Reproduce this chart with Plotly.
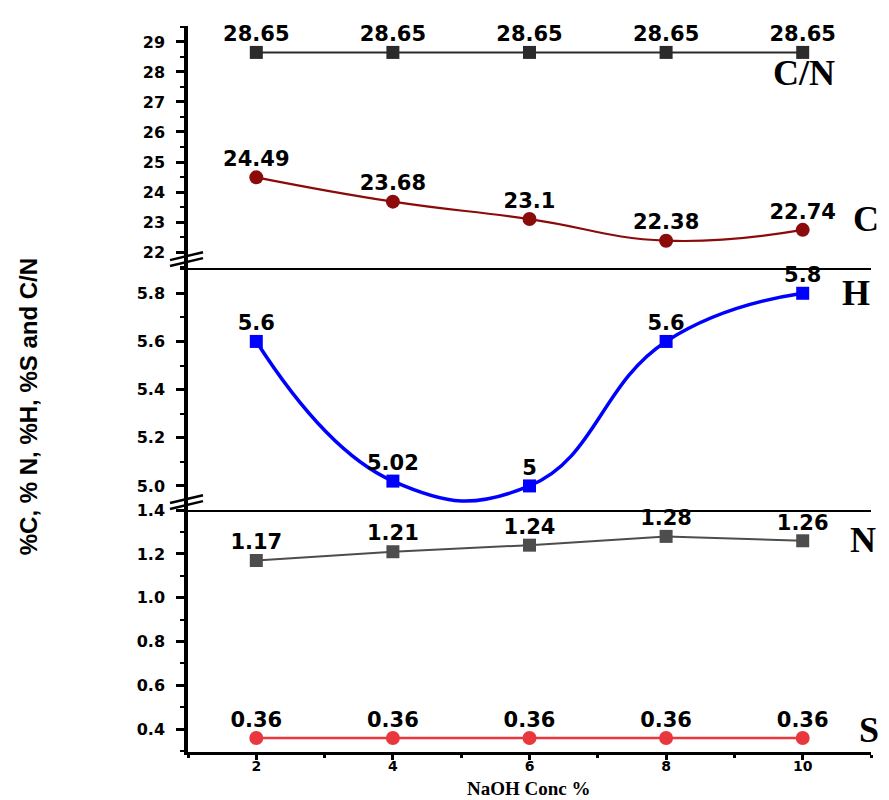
import plotly.graph_objects as go

naoh = [2, 4, 6, 8, 10]
cn_vals = [28.65, 28.65, 28.65, 28.65, 28.65]
c_vals = [24.49, 23.68, 23.1, 22.38, 22.74]
h_vals = [5.6, 5.02, 5.0, 5.6, 5.8]
n_vals = [1.17, 1.21, 1.24, 1.28, 1.26]
s_vals = [0.36, 0.36, 0.36, 0.36, 0.36]
x_ticks = [2, 4, 6, 8, 10]
series_names = ["C/N", "C", "H", "N", "S"]

LABEL_FONT = dict(family="DejaVu Sans", size=21, color="black", weight="bold")
TICK_FONT = dict(family="DejaVu Sans", size=16, color="black", weight="bold")
SERIF = dict(family="Liberation Serif, Times New Roman, serif", size=36, color="black", weight="bold")

# page body has an 8px margin: plot area sits at screen x 188..871, y 17..752
OFF = 8
PL, PR, PT, PB = 188, 871, 17, 752

fig = go.Figure()


def add_series(x, y, xa, ya, color, symbol, msize, lw, shape):
    fig.add_trace(go.Scatter(
        x=x, y=y, xaxis=xa, yaxis=ya, mode="lines+markers",
        line=dict(color=color, width=lw, shape=shape, smoothing=1.3),
        marker=dict(color=color, symbol=symbol, size=msize),
        cliponaxis=True, showlegend=False, hoverinfo="x+y"))
    fig.add_trace(go.Scatter(
        x=x, y=y, xaxis=xa, yaxis=ya, mode="markers+text",
        text=[f"{v:g}" for v in y], textposition="top center",
        textfont=LABEL_FONT,
        marker=dict(color="rgba(0,0,0,0)", size=8),
        cliponaxis=False, showlegend=False, hoverinfo="skip"))


# top panel: C/N and C
add_series(naoh, cn_vals, "x3", "y3", "#2b2b2b", "square", 13, 2, "linear")
add_series(naoh, c_vals, "x3", "y3", "#8b0a0a", "circle", 14, 2.2, "spline")
# middle panel: H
add_series(naoh, h_vals, "x2", "y2", "#0000ff", "square", 13, 3.5, "spline")
# bottom panel: N and S
add_series(naoh, n_vals, "x", "y", "#4d4d4d", "square", 13, 2, "linear")
add_series(naoh, s_vals, "x", "y", "#e8383d", "circle", 14, 2.5, "linear")

xcommon = dict(range=[1, 11], showgrid=False, zeroline=False)
ycommon = dict(showgrid=False, zeroline=False, showline=True, linecolor="black",
               linewidth=3.5, ticks="outside", ticklen=8, tickwidth=2.5,
               tickcolor="black", tickfont=TICK_FONT, ticklabelstandoff=8)

W, H = 889 - OFF, 800 - OFF
fig.update_layout(
    width=W, height=H,
    margin=dict(l=PL - OFF, r=W - (PR - OFF), t=PT - OFF, b=H - (PB - OFF)),
    plot_bgcolor="white", paper_bgcolor="white",
    xaxis=dict(**xcommon, anchor="y", showline=True, linecolor="black", linewidth=3,
               ticks="outside", ticklen=5, tickwidth=3, tickcolor="black",
               tickvals=x_ticks, tickfont=dict(TICK_FONT, size=14), ticklabelstandoff=-6,
               minor=dict(dtick=1, tick0=1, ticks="outside", ticklen=3, tickwidth=2.5, tickcolor="black")),
    xaxis2=dict(**xcommon, anchor="y2", matches="x", showline=True, linecolor="black",
                linewidth=2, showticklabels=False, ticks=""),
    xaxis3=dict(**xcommon, anchor="y3", matches="x", showline=True, linecolor="black",
                linewidth=2, showticklabels=False, ticks=""),
    yaxis=dict(**ycommon, domain=[0, 1/3], range=[0.296, 1.4005], tick0=0, dtick=0.2,
               tickformat=".1f",
               minor=dict(dtick=0.1, ticks="outside", ticklen=4, tickwidth=2, tickcolor="black")),
    yaxis2=dict(**ycommon, domain=[1/3, 2/3], range=[4.9, 5.905], tick0=0, dtick=0.2,
                tickformat=".1f",
                minor=dict(dtick=0.1, ticks="outside", ticklen=4, tickwidth=2, tickcolor="black")),
    yaxis3=dict(**ycommon, domain=[2/3, 1], range=[21.47, 29.53], tick0=0, dtick=1,
                minor=dict(dtick=0.5, ticks="outside", ticklen=4, tickwidth=2, tickcolor="black")),
)


def px_to_paper(sx, sy):
    """screen pixel -> paper coordinates of the plot area"""
    return (sx - PL) / (PR - PL), (PB - sy) / (PB - PT)


shapes = []
for yb in (250, 496):
    for dy in (0, 6):
        x0, y0 = px_to_paper(170, yb + 4 + dy)
        x1, y1 = px_to_paper(203, yb - 4 + dy)
        shapes.append(dict(type="line", xref="paper", yref="paper",
                           x0=x0, y0=y0, x1=x1, y1=y1,
                           line=dict(color="black", width=2.5)))
fig.update_layout(shapes=shapes)

annotations = []
label_pos = {"C/N": (804, 65), "C": (866, 212), "H": (856, 287), "N": (863, 537), "S": (869, 730)}
for name in series_names:
    sx, sy = label_pos[name]
    ax, ay = px_to_paper(sx, sy)
    annotations.append(dict(text=name, x=ax, y=ay, xref="paper", yref="paper",
                            showarrow=False, font=SERIF, xanchor="center", yanchor="middle"))

tx, ty = px_to_paper(529, 789)
annotations.append(dict(text="NaOH Conc %", x=tx, y=ty, xref="paper", yref="paper",
                        showarrow=False, xanchor="center", yanchor="middle",
                        font=dict(family="Liberation Serif, Times New Roman, serif", size=19,
                                  color="black", weight="bold")))
yx, yy = px_to_paper(28, 403)
annotations.append(dict(text="%C, % N, %H, %S and C/N", x=yx, y=yy, xref="paper", yref="paper",
                        showarrow=False, textangle=-90, xanchor="center", yanchor="middle",
                        font=dict(family="Liberation Sans, Arial, sans-serif", size=24,
                                  color="black", weight="bold")))
fig.update_layout(annotations=annotations)

fig.write_html("out.html")
